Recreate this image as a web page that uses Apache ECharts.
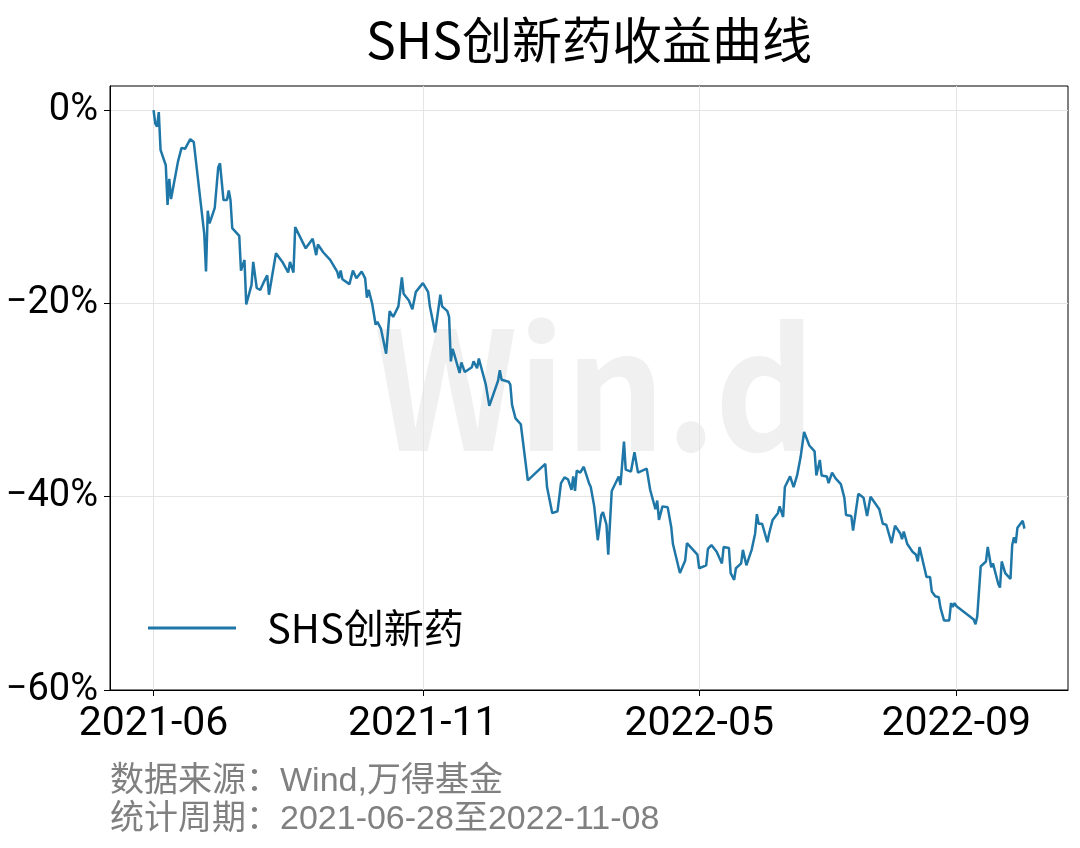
<!DOCTYPE html>
<html>
<head>
<meta charset="utf-8">
<script src="https://cdn.jsdelivr.net/npm/echarts@6/dist/echarts.min.js"></script>
<style>
html, body { margin: 0; padding: 0; background: #fff; }
#chart { width: 1080px; height: 848px; }
</style>
</head>
<body>
<div id="chart"></div>
<script>
// data: days since 2021-06-28, cumulative return in %
const seriesName = 'SHS创新药'
const startDate = new Date(2021, 5, 28)
const dayOffsets = [
  0, 1, 2, 3, 4, 7, 8, 9, 10, 14,
  15, 16, 17, 18, 21, 22, 23, 29, 30, 31,
  32, 33, 35, 37, 38, 39, 40, 42, 43, 44,
  45, 46, 49, 50, 51, 52, 53, 56, 57, 58,
  59, 61, 63, 64, 65, 66, 70, 71, 74, 77,
  78, 80, 81, 87, 91, 92, 93, 94, 97, 101,
  105, 106, 107, 108, 112, 113, 114, 115, 116, 119,
  121, 122, 123, 125, 127, 128, 130, 133, 135, 137,
  140, 142, 143, 146, 148, 150, 154, 157, 158, 159,
  161, 164, 165, 168, 169, 170, 171, 172, 175, 176,
  178, 182, 183, 185, 186, 190, 192, 197, 198, 199,
  203, 204, 205, 206, 207, 210, 214, 224, 225, 226,
  228, 231, 233, 235, 237, 238, 239, 240, 241, 242,
  244, 246, 249, 250, 252, 254, 256, 257, 259, 260,
  262, 266, 267, 269, 270, 273, 275, 277, 282, 284,
  287, 288, 289, 291, 294, 296, 297, 298, 301, 304,
  305, 311, 312, 316, 317, 319, 322, 325, 326, 329,
  330, 331, 332, 333, 336, 337, 339, 342, 344, 345,
  346, 348, 351, 352, 354, 357, 358, 360, 361, 364,
  366, 368, 370, 372, 373, 375, 376, 378, 379, 380,
  381, 382, 385, 386, 388, 390, 393, 395, 396, 399,
  400, 401, 403, 406, 408, 410, 411, 415, 417, 419,
  422, 424, 427, 428, 429, 431, 434, 436, 437, 438,
  442, 444, 445, 447, 449, 450, 452, 455, 456, 457,
  458, 459, 469, 470, 471, 473, 476, 477, 479, 480,
  483, 484, 485, 487, 490, 491, 492, 493, 494, 497,
  498
]
const returns = [
  0, -1.4, -1.7, -0.2, -4.1, -5.7, -9.8, -7.1, -9.2, -5.3,
  -5.5, -3.9, -3.7, -4.0, -3.0, -3.2, -3.3, -12.8, -16.7, -10.4,
  -11.7, -11.2, -10.1, -5.9, -5.5, -5.7, -9.3, -9.3, -8.3, -9.3,
  -12.2, -12.3, -13.0, -16.6, -16.4, -15.5, -20.1, -18.1, -15.7, -15.5,
  -18.4, -18.6, -17.8, -17.6, -17.1, -19.1, -14.8, -15.0, -15.8, -16.8,
  -15.7, -16.8, -12.1, -14.3, -13.3, -13.4, -15.0, -13.9, -14.7, -15.5,
  -16.7, -17.4, -16.6, -17.5, -18.0, -18.1, -16.6, -16.6, -17.4, -16.7,
  -17.4, -19.4, -18.6, -20.0, -22.2, -21.9, -22.6, -25.2, -20.8, -21.4,
  -20.3, -17.3, -19.0, -19.7, -20.6, -18.8, -17.9, -18.8, -20.3, -20.3,
  -23.0, -19.1, -20.3, -20.8, -21.4, -26.0, -24.7, -25.3, -27.2, -26.1,
  -27.1, -26.6, -26.0, -26.7, -25.7, -28.4, -30.6, -28.0, -26.9, -27.9,
  -28.1, -28.4, -30.5, -30.5, -31.9, -32.5, -38.3, -36.6, -39.0, -39.0,
  -41.7, -41.5, -38.6, -38.0, -38.2, -38.0, -39.3, -37.9, -39.4, -37.3,
  -37.5, -36.9, -38.6, -39.0, -41.0, -44.5, -41.9, -41.6, -42.9, -46.0,
  -39.4, -37.9, -38.8, -34.3, -37.2, -37.4, -35.4, -37.5, -37.1, -39.3,
  -41.3, -40.4, -42.4, -41.0, -41.1, -43.1, -44.9, -44.9, -47.9, -46.6,
  -44.8, -46.0, -47.4, -47.1, -45.4, -45.0, -45.7, -46.9, -45.2, -45.3,
  -47.9, -47.9, -48.6, -47.4, -46.9, -45.5, -47.1, -45.5, -43.8, -41.8,
  -42.8, -42.8, -44.7, -43.8, -42.4, -41.7, -41.0, -42.1, -39.0, -37.9,
  -39.0, -37.8, -35.9, -33.3, -33.4, -34.7, -34.7, -35.3, -37.8, -37.9,
  -36.2, -37.8, -37.9, -38.6, -37.5, -38.1, -38.7, -40.1, -41.9, -42.0,
  -43.5, -43.5, -39.7, -40.1, -42.0, -40.0, -40.2, -41.3, -42.8, -42.9,
  -44.8, -43.0, -43.8, -44.4, -43.6, -44.9, -45.7, -46.0, -46.7, -45.2,
  -48.3, -48.3, -49.8, -50.3, -50.4, -51.5, -52.8, -52.8, -51.0, -51.4,
  -51.0, -51.3, -52.7, -53.2, -52.4, -47.2, -46.7, -45.2, -47.3, -46.9,
  -49.0, -49.4, -46.7, -47.9, -48.5, -45.0, -44.2, -44.8, -43.2, -42.5,
  -43.3
]
// x tick positions (days since start) and y tick values
const xTickOffsets = [0, 154, 312, 459]
const yTicks = [-60, -40, -20, 0]

const DAY = 86400000
const lineColor = '#1f77a8'
const CJK = "'Noto Sans CJK SC', sans-serif"
const TICK = "Roboto, 'Liberation Sans', sans-serif"
const PLAIN = "'Liberation Sans', 'Noto Sans CJK SC', sans-serif"

const chart = echarts.init(document.getElementById('chart'), null, { renderer: 'canvas' })

const points = dayOffsets.map((d, i) => [d, returns[i]])
const span = dayOffsets[dayOffsets.length - 1]

function monthLabel(offset) {
  const d = new Date(startDate.getTime() + offset * DAY)
  return d.getFullYear() + '-' + String(d.getMonth() + 1).padStart(2, '0')
}

const option = {
  animation: false,
  backgroundColor: '#fff',
  grid: {
    left: 110, right: 12, top: 86, bottom: 158,
    outerBoundsMode: 'none',
    show: true, borderColor: '#000', borderWidth: 1
  },
  graphic: [
    {
      type: 'text', x: 589, y: 40, z: 10,
      style: { text: 'SHS创新药收益曲线', font: "50px " + CJK, fill: '#000', align: 'center', verticalAlign: 'middle' }
    },
    {
      type: 'text', x: 374, y: 388, z: 0, silent: true, scaleX: 0.95,
      style: { text: 'Win.d', font: "bold 165px " + CJK, fill: '#f0f0f0', align: 'left', verticalAlign: 'middle' }
    },
    {
      type: 'text', x: 110, y: 782, z: 10,
      style: { text: '数据来源：Wind,万得基金', font: "34px " + PLAIN, fill: '#808080', align: 'left', verticalAlign: 'middle' }
    },
    {
      type: 'text', x: 110, y: 820, z: 10,
      style: { text: '统计周期：2021-06-28至2022-11-08', font: "34px " + PLAIN, fill: '#808080', align: 'left', verticalAlign: 'middle' }
    }
  ],
  legend: {
    data: [{ name: seriesName, icon: 'rect' }],
    left: 148, top: 608, padding: 0,
    itemWidth: 88, itemHeight: 3,
    textStyle: { fontSize: 40, fontFamily: CJK, color: '#000', padding: [0, 0, 0, 26] }
  },
  xAxis: {
    type: 'value',
    min: -span * 0.05,
    max: span * 1.05,
    axisLine: { onZero: false, lineStyle: { color: '#000', width: 1 } },
    axisTick: { show: true, length: 6, customValues: xTickOffsets, lineStyle: { color: '#000' } },
    axisLabel: {
      customValues: xTickOffsets,
      fontSize: 41, fontFamily: TICK, color: '#000', margin: 14,
      formatter: v => monthLabel(v)
    },
    splitLine: { show: true, lineStyle: { color: '#e5e5e5', width: 1 } }
  },
  yAxis: {
    type: 'value',
    min: -60, max: 2.5, interval: 20,
    axisLine: { show: true, onZero: false, lineStyle: { color: '#000' } },
    axisTick: { show: true, length: 6, customValues: yTicks, lineStyle: { color: '#000' } },
    axisLabel: {
      customValues: yTicks,
      fontSize: 38, fontFamily: TICK, color: '#000', margin: 12,
      formatter: v => (v < 0 ? '\u2212' : '') + Math.abs(v) + '%'
    },
    splitLine: { show: true, lineStyle: { color: '#e5e5e5', width: 1 } }
  },
  series: [
    {
      name: seriesName,
      type: 'line',
      data: points,
      symbol: 'none',
      showSymbol: false,
      z: 5,
      lineStyle: { color: lineColor, width: 2.5 },
      itemStyle: { color: lineColor }
    }
  ]
}

chart.setOption(option)
</script>
</body>
</html>
